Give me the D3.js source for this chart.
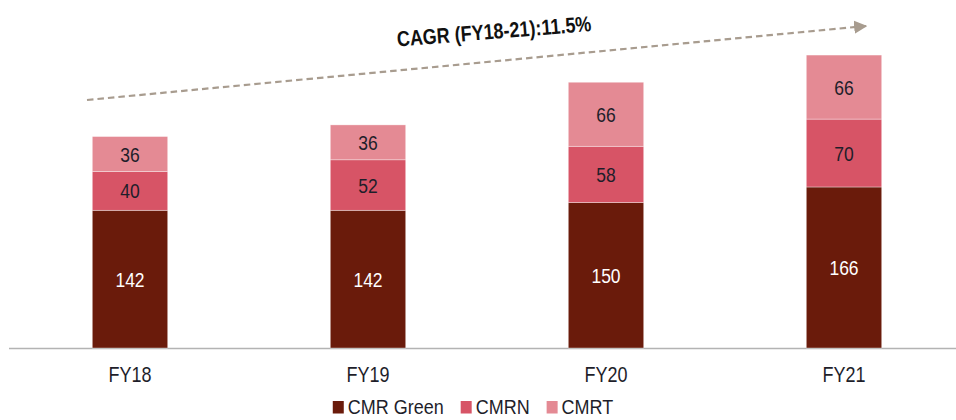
<!DOCTYPE html>
<html>
<head>
<meta charset="utf-8">
<script src="https://cdn.jsdelivr.net/npm/d3@7"></script>
<style>
  body { margin: 0; background: #fff; }
  text { font-family: "Liberation Sans", Arial, sans-serif; }
</style>
</head>
<body>
<svg id="chart" width="956" height="420"></svg>
<script>
const years = ["FY18", "FY19", "FY20", "FY21"]
const cmrGreen = [142, 142, 150, 166]
const cmrn = [40, 52, 58, 70]
const cmrt = [36, 36, 66, 66]
const seriesNames = ["CMR Green", "CMRN", "CMRT"]
const colors = ["#6a1b0b", "#d75466", "#e48a94"]
const cagrLabel = "CAGR (FY18-21):11.5%"

const svg = d3.select("#chart")
const stretch = 1.2 // the source picture's text is a bit tall for its width

// build rows for the stack
let rows = years.map((yr, i) => ({year: yr, "CMR Green": cmrGreen[i], "CMRN": cmrn[i], "CMRT": cmrt[i]}))
let stacked = d3.stack().keys(seriesNames)(rows)

let x = d3.scaleBand()
    .domain(years)
    .range([11, 963])
    .paddingInner(0.683)
    .paddingOuter(0.3415)
let y = d3.scaleLinear()
    .domain([0, 310])
    .range([348, 47.3])

// axis line
svg.append("line")
    .attr("x1", 9).attr("x2", 956)
    .attr("y1", y(0) + 0.5).attr("y2", y(0) + 0.5)
    .attr("stroke", "#b3b3b3")
    .attr("stroke-width", 1.5)

// bars
let layers = svg.selectAll(".layer")
  .data(stacked)
  .enter().append("g")
    .attr("class", "layer")
    .attr("fill", (d, i) => colors[i])

layers.selectAll("rect")
  .data(d => d)
  .enter().append("rect")
    .attr("x", d => x(d.data.year))
    .attr("width", x.bandwidth())
    .attr("y", d => y(d[1]))
    .attr("height", d => y(d[0]) - y(d[1]))
    .attr("stroke", "rgba(255,255,255,0.6)")
    .attr("stroke-width", 0.6)

// value labels
stacked.forEach((layer, li) => {
  svg.selectAll(".lbl" + li)
    .data(layer)
    .enter().append("text")
      .attr("transform", d => "translate(" + (x(d.data.year) + x.bandwidth() / 2) + "," + ((y(d[0]) + y(d[1])) / 2) + ") scale(1," + stretch + ")")
      .attr("text-anchor", "middle")
      .attr("dy", "0.36em")
      .attr("font-size", "17.5px")
      .attr("fill", li === 0 ? "#ffffff" : "#1e1e2a")
      .text(d => d[1] - d[0])
})

// x axis labels
svg.selectAll(".xlbl")
  .data(years)
  .enter().append("text")
    .attr("transform", d => "translate(" + (x(d) + x.bandwidth() / 2) + ",374) scale(1," + 1.25 + ")")
    .attr("text-anchor", "middle")
    .attr("dy", "0.36em")
    .attr("font-size", "18px")
    .attr("fill", "#1e1e2a")
    .text(d => d)

// CAGR arrow
svg.append("defs").append("marker")
    .attr("id", "arrow")
    .attr("viewBox", "0 0 10 10")
    .attr("refX", 9).attr("refY", 5)
    .attr("markerWidth", 6).attr("markerHeight", 6)
    .attr("markerUnits", "strokeWidth")
    .attr("orient", "auto")
  .append("path")
    .attr("d", "M0,0L10,5L0,10z")
    .attr("fill", "#a89c8f")

svg.append("line")
    .attr("x1", 87).attr("y1", 100)
    .attr("x2", 866).attr("y2", 26)
    .attr("stroke", "#a89c8f")
    .attr("stroke-width", 2.2)
    .attr("stroke-dasharray", "6.5,4")
    .attr("marker-end", "url(#arrow)")

svg.append("text")
    .attr("transform", "translate(494,31) rotate(-4.6) scale(1," + stretch + ")")
    .attr("text-anchor", "middle")
    .attr("dy", "0.36em")
    .attr("font-size", "18px")
    .attr("font-weight", "bold")
    .attr("fill", "#111")
    .text(cagrLabel)

// legend
let legend = svg.append("g")
let lx = 0
seriesNames.forEach((name, i) => {
  let g = legend.append("g").attr("transform", "translate(" + lx + ",0)")
  g.append("rect")
    .attr("x", 0).attr("y", -6)
    .attr("width", 11).attr("height", 12.5)
    .attr("fill", colors[i])
  let t = g.append("text")
    .attr("transform", "translate(15,0) scale(1,1.15)")
    .attr("dy", "0.36em")
    .attr("font-size", "18px")
    .attr("fill", "#1e1e2a")
    .text(name)
  lx += 15 + t.node().getComputedTextLength() + 17
})
lx -= 17
legend.attr("transform", "translate(" + (473 - lx / 2) + ",407)")
</script>
</body>
</html>
